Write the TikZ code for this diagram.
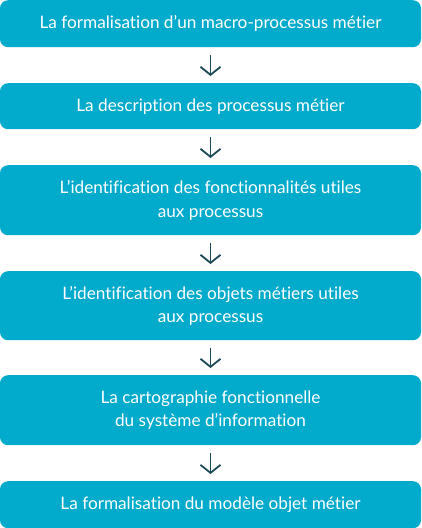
\documentclass[tikz,border=0pt]{standalone}
\usepackage{fontspec}
\setmainfont{Lato}[Ligatures={NoCommon}]
\usetikzlibrary{arrows.meta}
\definecolor{boxteal}{HTML}{02AACB}
\definecolor{arrowdark}{HTML}{1D4A57}
\tikzset{
  stepbox/.style={fill=boxteal, draw=none, rounded corners=8pt, text=white, font=\fontsize{17.2}{23.5}\selectfont, align=center, minimum width=421pt, inner sep=0pt, anchor=north},
  flowarrow/.style={draw=arrowdark, line width=1.8pt, -{Straight Barb[length=8pt, width=20pt, line width=1.8pt]}, shorten <=8pt, shorten >=7pt}
}
\begin{document}
\begin{tikzpicture}[x=1pt,y=-1pt]
\useasboundingbox (0,0) rectangle (421,528);
\node[stepbox, minimum height=47pt] (b1) at (210.5,0) {La formalisation d’un macro-processus métier};
\node[stepbox, minimum height=46pt] (b2) at (210.5,83) {La description des processus métier};
\node[stepbox, minimum height=70pt] (b3) at (210.5,165) {L’identification des fonctionnalités utiles\\aux processus};
\node[stepbox, minimum height=69pt] (b4) at (210.5,271) {L’identification des objets métiers utiles\\aux processus};
\node[stepbox, minimum height=70pt] (b5) at (210.5,375) {La cartographie fonctionnelle\\du système d’information};
\node[stepbox, minimum height=47pt] (b6) at (210.5,481) {La formalisation du modèle objet métier};
\draw[flowarrow] (b1) -- (b2);
\draw[flowarrow] (b2) -- (b3);
\draw[flowarrow] (b3) -- (b4);
\draw[flowarrow] (b4) -- (b5);
\draw[flowarrow] (b5) -- (b6);
\end{tikzpicture}
\end{document}
